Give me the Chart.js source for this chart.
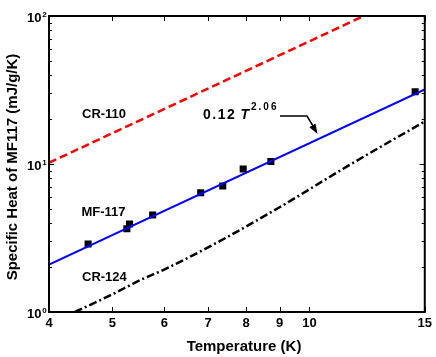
<!DOCTYPE html>
<html>
<head>
<meta charset="utf-8">
<script src="https://cdn.jsdelivr.net/npm/chart.js@4.4.0/dist/chart.umd.min.js"></script>
<style>
  html, body { margin: 0; padding: 0; background: #fff; }
</style>
</head>
<body>
<canvas id="heatChart" width="436" height="357"></canvas>
<script>
// MF-117 measured points
const mfTemp = [4.59, 5.26, 5.31, 5.76, 6.82, 7.37, 7.92, 8.73, 14.5];
const mfHeat = [2.88, 3.65, 3.93, 4.52, 6.40, 7.10, 9.25, 10.4, 30.8];

// fit line (0.12 T^2.06), read at both axis ends
const fitTemp = [4, 15];
const fitHeat = [2.09, 31.9];

// CR-110 (red dashed)
const cr110Temp = [4, 12.1];
const cr110Heat = [10.2, 100];

// CR-124 (black dash-dot)
const cr124Temp = [4.38, 4.97, 5.51, 6.05, 7.34, 9.0, 11.4, 15];
const cr124Heat = [1.0, 1.30, 1.64, 1.97, 3.06, 5.1, 9.6, 19.4];

const xTicks = [4, 5, 6, 7, 8, 9, 10, 15];
const yTicks = [1, 10, 100];
const yTickExp = ['0', '1', '2'];

const FONT = '"Liberation Sans", Arial, sans-serif';

function pts(xs, ys) {
    return xs.map((x, i) => ({ x: x, y: ys[i] }));
}

// frame, inward ticks, y labels, titles and annotations
const decorPlugin = {
    id: 'decor',
    afterDraw(chart) {
        const ctx = chart.ctx;
        const a = chart.chartArea;
        const xs = chart.scales.x;
        const ys = chart.scales.y;
        ctx.save();
        ctx.strokeStyle = '#000';
        ctx.fillStyle = '#000';
        ctx.lineWidth = 2;
        ctx.strokeRect(a.left, a.top, a.right - a.left, a.bottom - a.top);

        ctx.lineWidth = 1;
        ctx.beginPath();
        xTicks.forEach(v => {
            const px = Math.round(xs.getPixelForValue(v)) + 0.5;
            ctx.moveTo(px, a.bottom); ctx.lineTo(px, a.bottom - 5);
            ctx.moveTo(px, a.top); ctx.lineTo(px, a.top + 5);
        });
        // y ticks, major and minor per decade
        for (let d = 1; d < 100; d *= 10) {
            for (let k = 1; k <= 10; k++) {
                const v = d * k;
                if (v > 100) continue;
                const py = Math.round(ys.getPixelForValue(v)) + 0.5;
                const len = (k === 1 || k === 10) ? 5 : 3;
                ctx.moveTo(a.left, py); ctx.lineTo(a.left + len, py);
                ctx.moveTo(a.right, py); ctx.lineTo(a.right - len, py);
            }
        }
        ctx.stroke();

        // y tick labels 10^n
        yTicks.forEach((v, i) => {
            const py = ys.getPixelForValue(v);
            ctx.font = 'bold 13px ' + FONT;
            ctx.textAlign = 'right';
            ctx.textBaseline = 'alphabetic';
            ctx.fillText('10', 41.5, py + 5.5);
            ctx.font = 'bold 8px ' + FONT;
            ctx.textAlign = 'left';
            ctx.fillText(yTickExp[i], 42.3, py + 0.8);
        });

        // axis titles
        ctx.font = 'bold 15px ' + FONT;
        ctx.textAlign = 'center';
        ctx.textBaseline = 'middle';
        ctx.fillText('Temperature (K)', 244, 347);
        ctx.save();
        ctx.translate(13, 167);
        ctx.rotate(-Math.PI / 2);
        ctx.fillText('Specific Heat of MF117 (mJ/g/K)', 0, 0);
        ctx.restore();

        // curve labels
        ctx.font = 'bold 13px ' + FONT;
        ctx.textAlign = 'left';
        ctx.textBaseline = 'alphabetic';
        ctx.fillText('CR-110', 82, 118.3);
        ctx.fillText('MF-117', 81.5, 215.7);
        ctx.fillText('CR-124', 82, 281);

        // fit formula
        ctx.font = 'bold 14px ' + FONT;
        ctx.letterSpacing = '1.5px';
        ctx.fillText('0.12', 203, 118.5);
        ctx.letterSpacing = '0px';
        ctx.font = 'italic bold 14px ' + FONT;
        ctx.fillText('T', 240.5, 118.5);
        ctx.font = 'bold 10px ' + FONT;
        ctx.letterSpacing = '2px';
        ctx.fillText('2.06', 251, 110);
        ctx.letterSpacing = '0px';

        // arrow
        ctx.lineWidth = 1.5;
        ctx.beginPath();
        ctx.moveTo(280, 116);
        ctx.lineTo(307, 116);
        ctx.lineTo(313, 126);
        ctx.stroke();
        const tipX = 317.5, tipY = 134;
        const ang = Math.atan2(134 - 116, 317.5 - 307);
        const L = 10, W = 3.5;
        const bx = tipX - L * Math.cos(ang), by = tipY - L * Math.sin(ang);
        ctx.beginPath();
        ctx.moveTo(tipX, tipY);
        ctx.lineTo(bx + W * Math.sin(ang), by - W * Math.cos(ang));
        ctx.lineTo(bx - W * Math.sin(ang), by + W * Math.cos(ang));
        ctx.closePath();
        ctx.fill();
        ctx.restore();
    }
};

const ctx = document.getElementById('heatChart').getContext('2d');
new Chart(ctx, {
    type: 'scatter',
    data: {
        datasets: [
            {
                label: 'CR-110',
                data: pts(cr110Temp, cr110Heat),
                showLine: true,
                borderColor: '#ff0000',
                borderWidth: 2.5,
                borderDash: [8, 4],
                pointRadius: 0
            },
            {
                label: 'CR-124',
                data: pts(cr124Temp, cr124Heat),
                showLine: true,
                borderColor: '#000000',
                borderWidth: 2.5,
                borderDash: [8, 3, 2, 3],
                cubicInterpolationMode: 'monotone',
                pointRadius: 0
            },
            {
                label: 'Fit',
                data: pts(fitTemp, fitHeat),
                showLine: true,
                borderColor: '#0000ff',
                borderWidth: 2,
                pointRadius: 0
            },
            {
                label: 'MF-117',
                data: pts(mfTemp, mfHeat),
                showLine: false,
                pointStyle: 'rect',
                pointRadius: 5,
                backgroundColor: '#000',
                borderColor: '#000',
                borderWidth: 0
            }
        ]
    },
    options: {
        responsive: false,
        animation: false,
        devicePixelRatio: 1,
        layout: { padding: { top: 16, right: 11, left: 0, bottom: 0 } },
        plugins: {
            legend: { display: false },
            tooltip: { enabled: false }
        },
        scales: {
            x: {
                type: 'logarithmic',
                min: 4,
                max: 15,
                afterBuildTicks: s => { s.ticks = xTicks.map(v => ({ value: v })); },
                afterFit: s => { s.height = 45; },
                grid: { display: false, drawTicks: false },
                border: { display: false },
                ticks: {
                    autoSkip: false,
                    maxRotation: 0,
                    padding: 4,
                    color: '#000',
                    font: { family: FONT, size: 13, weight: 'bold' },
                    callback: v => String(v)
                },
                title: { display: false }
            },
            y: {
                type: 'logarithmic',
                min: 1,
                max: 100,
                afterBuildTicks: s => { s.ticks = yTicks.map(v => ({ value: v })); },
                afterFit: s => { s.width = 49; },
                grid: { display: false, drawTicks: false },
                border: { display: false },
                ticks: { display: false },
                title: { display: false }
            }
        }
    },
    plugins: [decorPlugin]
});
</script>
</body>
</html>
